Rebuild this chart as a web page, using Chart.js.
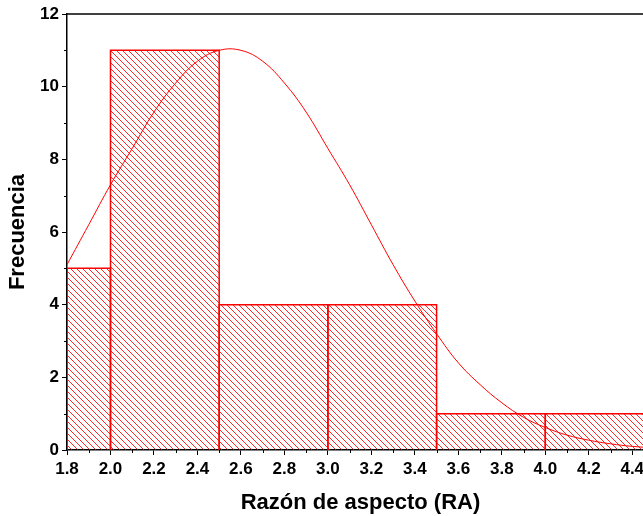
<!DOCTYPE html>
<html lang="es">
<head>
    <meta charset="UTF-8">
    <title>Razón de aspecto</title>
    <script src="https://cdn.jsdelivr.net/npm/chart.js"></script>
    <style>
        html, body { margin: 0; padding: 0; overflow: hidden; background: #fff; }
        #wrap { position: absolute; left: 0; top: 0; width: 680px; height: 516px; }
    </style>
</head>
<body>
    <div id="wrap">
        <canvas id="histChart"></canvas>
    </div>

    <script>
        // bordes de las clases y frecuencias
        const binEdges = [1.8, 2.0, 2.5, 3.0, 3.5, 4.0, 4.5];
        const counts = [5, 11, 4, 4, 1, 1];

        // curva de ajuste
        const curveX = [1.8, 1.9, 2.0, 2.1, 2.2, 2.3, 2.4, 2.5, 2.6, 2.7, 2.8, 2.9, 3.0, 3.1,
                        3.2, 3.3, 3.4, 3.5, 3.6, 3.7, 3.8, 3.9, 4.0, 4.1, 4.2, 4.3, 4.4, 4.5];
        const curveY = [5.1, 6.2, 7.3, 8.3, 9.3, 10.1, 10.7, 11.0, 11.0, 10.7, 10.1, 9.3, 8.3, 7.3,
                        6.2, 5.1, 4.1, 3.2, 2.4, 1.8, 1.3, 0.9, 0.62, 0.41, 0.27, 0.17, 0.1, 0.06];

        // marcas del eje x
        const xTicks = [1.8, 2.0, 2.2, 2.4, 2.6, 2.8, 3.0, 3.2, 3.4, 3.6, 3.8, 4.0, 4.2, 4.4];

        const red = 'rgb(255, 0, 0)';
        const fontFam = "Arial, 'Liberation Sans', sans-serif";

        // trama diagonal "\\\"
        function hatch() {
            const c = document.createElement('canvas');
            c.width = 6; c.height = 6;
            const g = c.getContext('2d');
            g.strokeStyle = 'rgba(255, 0, 0, 0.85)';
            g.lineWidth = 1;
            g.beginPath();
            g.moveTo(-1, -1); g.lineTo(7, 7);
            g.moveTo(-1, 5); g.lineTo(1, 7);
            g.moveTo(5, -1); g.lineTo(7, 1);
            g.stroke();
            return g.createPattern(c, 'repeat');
        }
        const pattern = hatch();

        const barSets = counts.map((h, i) => ({
            type: 'line',
            data: [
                { x: binEdges[i], y: 0 },
                { x: binEdges[i], y: h },
                { x: binEdges[i + 1], y: h },
                { x: binEdges[i + 1], y: 0 }
            ],
            borderColor: red,
            borderWidth: 1.5,
            backgroundColor: pattern,
            fill: 'origin',
            pointRadius: 0,
            tension: 0,
            order: 1
        }));

        const curveSet = {
            type: 'line',
            data: curveX.map((x, i) => ({ x: x, y: curveY[i] })),
            borderColor: red,
            borderWidth: 1,
            fill: false,
            pointRadius: 0,
            tension: 0.4,
            order: 0
        };

        // marco superior y marcas menores
        const framePlugin = {
            id: 'frame',
            afterDraw(chart) {
                const { ctx, chartArea: a, scales: { x, y } } = chart;
                ctx.save();
                ctx.strokeStyle = '#000';
                ctx.lineWidth = 1.5;
                ctx.beginPath();
                ctx.moveTo(a.left, a.top);
                ctx.lineTo(a.right, a.top);
                ctx.stroke();
                ctx.lineWidth = 1;
                ctx.beginPath();
                for (let v = 1; v < 12; v += 2) {
                    const py = Math.round(y.getPixelForValue(v)) + 0.5;
                    ctx.moveTo(a.left - 3, py); ctx.lineTo(a.left, py);
                }
                for (let k = 19; k <= 45; k += 2) {
                    const px = Math.round(x.getPixelForValue(k / 10)) + 0.5;
                    ctx.moveTo(px, a.bottom); ctx.lineTo(px, a.bottom + 3);
                }
                ctx.stroke();
                ctx.restore();
            }
        };

        new Chart(document.getElementById('histChart'), {
            type: 'line',
            data: { datasets: [curveSet, ...barSets] },
            options: {
                responsive: true,
                maintainAspectRatio: false,
                animation: false,
                layout: { padding: { top: 14, right: 26, left: 0, bottom: 0 } },
                plugins: { legend: { display: false }, tooltip: { enabled: false } },
                scales: {
                    x: {
                        type: 'linear',
                        min: 1.8,
                        max: 4.5,
                        afterBuildTicks: s => {
                            s.ticks = xTicks.map(v => ({ value: v }));
                        },
                        afterFit: s => { s.height = 66; },
                        ticks: {
                            autoSkip: false,
                            maxRotation: 0,
                            padding: 4,
                            color: '#000',
                            font: { family: fontFam, size: 17, weight: 'bold' },
                            callback: v => Number(v).toFixed(1)
                        },
                        grid: { drawOnChartArea: false, drawTicks: true, tickLength: 5, tickColor: '#000', tickWidth: 1 },
                        border: { color: '#000', width: 1.5 },
                        title: {
                            display: true,
                            text: 'Razón de aspecto (RA)',
                            color: '#000',
                            font: { family: fontFam, size: 22, weight: 'bold' },
                            padding: { top: 0, bottom: 0 }
                        }
                    },
                    y: {
                        min: 0,
                        max: 12,
                        afterFit: s => { s.width = 67; },
                        ticks: {
                            stepSize: 2,
                            padding: 3,
                            color: '#000',
                            font: { family: fontFam, size: 17, weight: 'bold' }
                        },
                        grid: { drawOnChartArea: false, drawTicks: true, tickLength: 5, tickColor: '#000', tickWidth: 1 },
                        border: { color: '#000', width: 1.5 },
                        title: {
                            display: true,
                            text: 'Frecuencia',
                            color: '#000',
                            font: { family: fontFam, size: 22, weight: 'bold' },
                            padding: { top: 5, bottom: 0 }
                        }
                    }
                }
            },
            plugins: [framePlugin]
        });
    </script>
</body>
</html>
